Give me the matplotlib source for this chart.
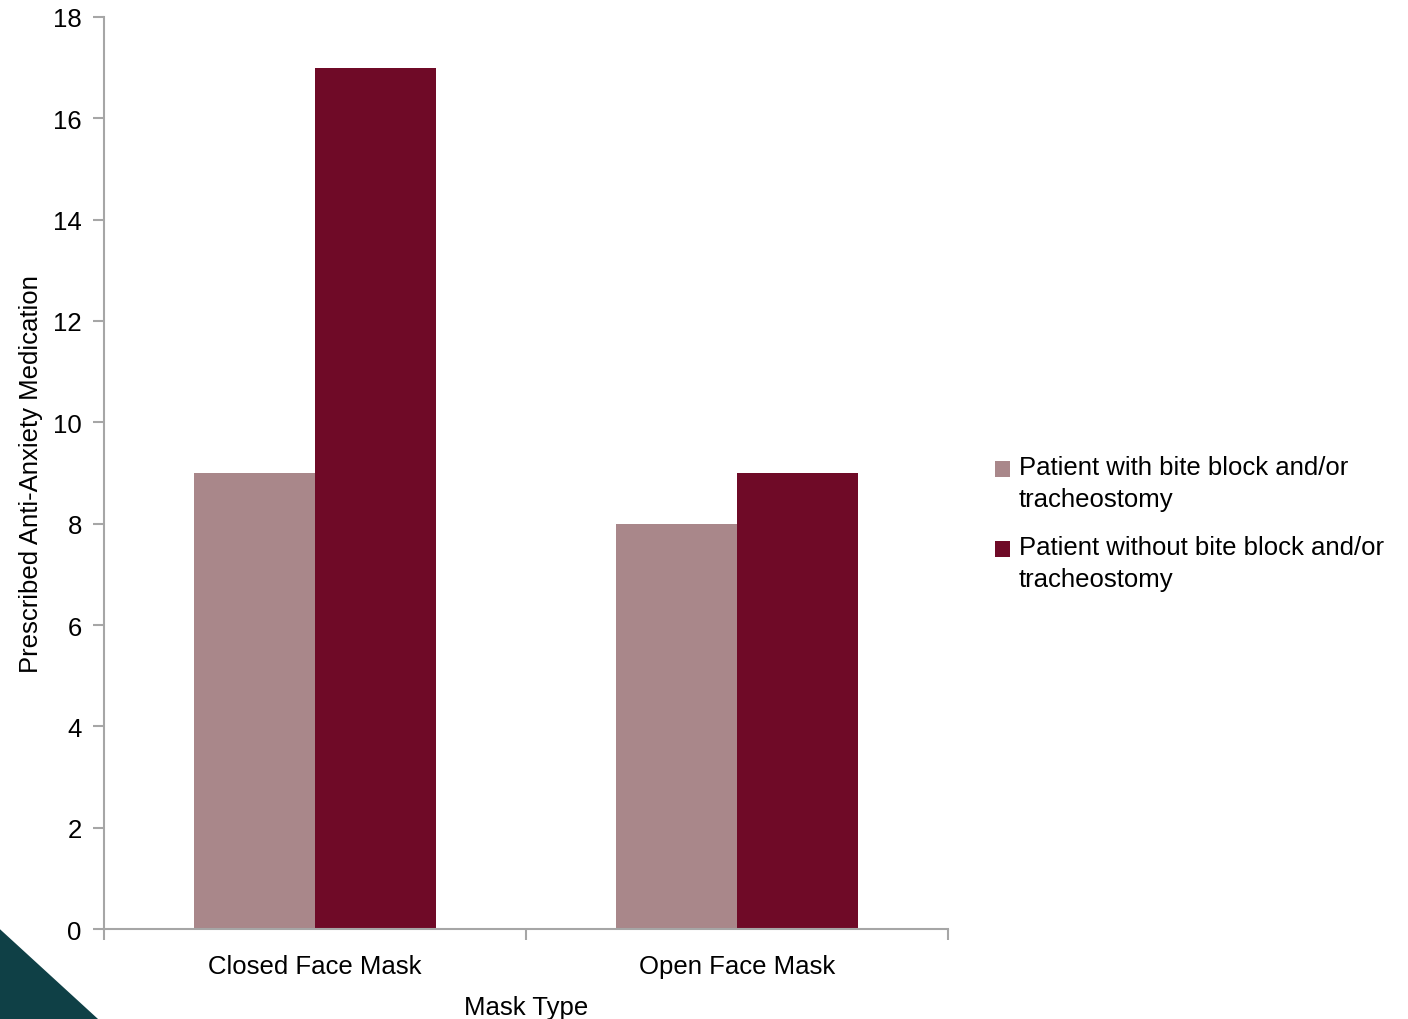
import numpy as np
import matplotlib.pyplot as plt
from matplotlib.patches import Polygon, Rectangle
from matplotlib.legend_handler import HandlerPatch
from matplotlib.container import BarContainer

plt.rcParams["font.family"] = ["Liberation Sans", "DejaVu Sans"]

categories = ["Closed Face Mask", "Open Face Mask"]
with_block = [9, 8]
without_block = [17, 9]
series_labels = [
    "Patient with bite block and/or\ntracheostomy",
    "Patient without bite block and/or\ntracheostomy",
]
colors = ["#a9878a", "#6f0a27"]
axis_gray = "#a6a6a6"
fs = 18.5

fig = plt.figure(figsize=(14.08, 10.20), dpi=100)
ax = fig.add_axes([0.0739, 0.0882, 0.5994, 0.8942])

x = np.arange(len(categories)) + 0.5
width = 0.287
ax.bar(x - width / 2, with_block, width, color=colors[0], label=series_labels[0])
ax.bar(x + width / 2, without_block, width, color=colors[1], label=series_labels[1])

ax.set_xlim(0, len(categories))
ax.set_ylim(0, 18)
ax.set_yticks(np.arange(0, 19, 2))
ax.set_xticks(x)
ax.set_xticklabels(categories)
ax.set_xticks(np.arange(len(categories) + 1), minor=True)
ax.tick_params(axis="x", which="major", length=0, labelsize=fs, pad=18)
ax.tick_params(axis="x", which="minor", length=8, width=1.5, color=axis_gray)
ax.tick_params(axis="y", length=8, width=1.5, color=axis_gray, labelsize=fs, pad=8)

for side in ["top", "right"]:
    ax.spines[side].set_visible(False)
for side in ["left", "bottom"]:
    ax.spines[side].set_color(axis_gray)
    ax.spines[side].set_linewidth(1.5)

ax.set_xlabel("Mask Type", fontsize=fs, labelpad=12)
ax.set_ylabel("Prescribed Anti-Anxiety Medication", fontsize=fs, labelpad=7)


# legend square sits next to the first line of a two-line label
def top_square(legend, orig_handle, xdescent, ydescent, width, height, fontsize):
    side = 0.6 * fontsize
    return Rectangle((-xdescent, -ydescent + 11), side, side)


def first_bar_style(legend_patch, container):
    legend_patch.update_from(container.patches[0])


leg = fig.legend(
    loc="center left",
    bbox_to_anchor=(0.69, 0.486),
    frameon=False,
    fontsize=fs,
    handlelength=0.6,
    handleheight=0.6,
    handletextpad=0.35,
    labelspacing=0.95,
    handler_map={
        BarContainer: HandlerPatch(patch_func=top_square, update_func=first_bar_style)
    },
)
for t in leg.get_texts():
    t.set_linespacing(1.4)

# corner decoration
fig.patches.append(
    Polygon(
        [(0, 0), (0, 0.088), (0.0696, 0)],
        closed=True,
        transform=fig.transFigure,
        facecolor="#0f4046",
        edgecolor="none",
    )
)

fig.savefig("out.png", dpi=100)
